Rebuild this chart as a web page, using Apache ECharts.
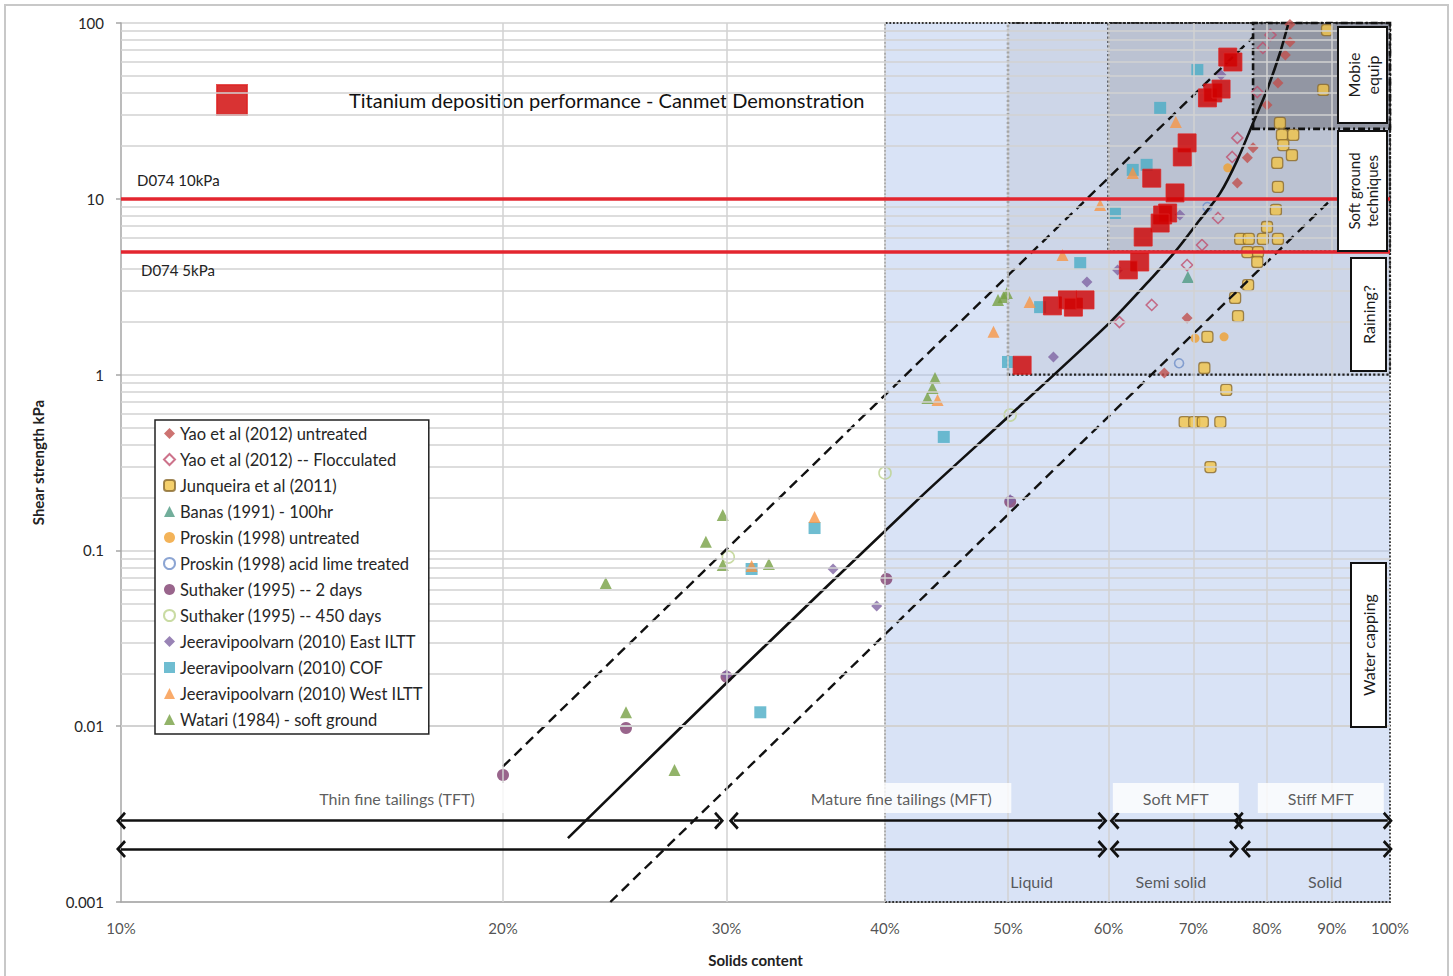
<!DOCTYPE html>
<html>
<head>
<meta charset="utf-8">
<title>Shear strength vs solids content</title>
<script src="https://cdn.jsdelivr.net/npm/echarts@6/dist/echarts.min.js"></script>
<style>
  html, body { margin: 0; padding: 0; background: #fff; }
  #chart { width: 1453px; height: 976px; }
</style>
</head>
<body>
<div id="chart"></div>
<script>
// [solids content (fraction), shear strength kPa]
const yaoUntreated = [[0.834, 98], [0.834, 77.9], [0.827, 65.8], [0.816, 45.6], [0.800, 34.2], [0.780, 19.5], [0.772, 17.1], [0.758, 12.3], [0.692, 2.10], [0.664, 1.02]]
const yaoFlocculated = [[0.805, 85.5], [0.794, 72.1], [0.786, 40.5], [0.758, 22.2], [0.751, 17.3], [0.732, 7.78], [0.711, 5.46], [0.692, 4.20], [0.649, 2.49], [0.612, 1.99]]
const junqueira = [[0.892, 91.2], [0.886, 41.6], [0.819, 27.0], [0.822, 23.1], [0.839, 23.1], [0.824, 20.2], [0.837, 17.7], [0.815, 16.0], [0.816, 11.7], [0.813, 8.64], [0.800, 6.91], [0.762, 5.91], [0.774, 5.91], [0.794, 5.91], [0.816, 5.91], [0.772, 4.98], [0.787, 4.98], [0.786, 4.37], [0.773, 3.23], [0.755, 2.73], [0.759, 2.15], [0.718, 1.64], [0.714, 1.09], [0.743, 0.818], [0.689, 0.537], [0.701, 0.537], [0.712, 0.537], [0.735, 0.537], [0.722, 0.298]]
const banas = [[0.693, 3.59]]
const proskinUntreated = [[0.702, 1.61], [0.740, 1.64], [0.745, 15.0]]
const proskinLime = [[0.718, 8.98], [0.682, 1.16]]
const suthaker2 = [[0.200, 0.00528], [0.250, 0.00977], [0.300, 0.0191], [0.401, 0.0688], [0.502, 0.189]]
const suthaker450 = [[0.301, 0.0917], [0.400, 0.276], [0.502, 0.589]]
const eastIltt = [[0.364, 0.0784], [0.394, 0.0483], [0.300, 0.0196], [0.543, 1.26], [0.577, 3.36], [0.610, 3.94], [0.683, 8.09], [0.502, 0.194], [0.736, 50.6]]
const cof = [[0.352, 0.134], [0.319, 0.0120], [0.445, 0.442], [0.500, 1.18], [0.530, 2.42], [0.570, 4.31], [0.607, 8.30], [0.627, 14.6], [0.643, 15.6], [0.659, 32.9], [0.705, 54.0], [0.314, 0.0784]]
const westIltt = [[0.352, 0.155], [0.487, 1.75], [0.440, 0.717], [0.520, 2.59], [0.552, 4.79], [0.591, 9.22], [0.678, 27.3], [0.627, 14.0], [0.314, 0.0815]]
const watari = [[0.298, 0.159], [0.289, 0.112], [0.298, 0.0826], [0.324, 0.0837], [0.241, 0.0653], [0.250, 0.0120], [0.273, 0.00563], [0.491, 2.66], [0.496, 2.76], [0.499, 2.91], [0.438, 0.957], [0.436, 0.839], [0.432, 0.736]]
const titanium = [[0.745, 64.0], [0.752, 60.0], [0.718, 37.5], [0.725, 40.0], [0.736, 42.1], [0.692, 20.8], [0.686, 17.3], [0.649, 13.1], [0.677, 10.8], [0.662, 8.09], [0.668, 8.30], [0.659, 7.28], [0.639, 6.06], [0.635, 4.37], [0.622, 3.94], [0.542, 2.46], [0.557, 2.66], [0.563, 2.42], [0.575, 2.66], [0.513, 1.13]]

// trend lines
const trendMid = [[0.225, 0.00231], [0.300, 0.0176], [0.426, 0.199], [0.502, 0.589], [0.602, 1.99], [0.650, 3.59], [0.679, 5.12], [0.708, 7.57], [0.735, 10.8], [0.758, 16.6], [0.780, 27.0], [0.800, 41.6], [0.819, 67.5], [0.831, 97.4]]
const trendUpper = [[0.2, 0.0059], [0.78, 83]]
const trendLower = [[0.243, 0.001], [0.9, 10]]

// limits and zones
const limitValues = [10, 5]
const limitNames = ['D074 10kPa', 'D074 5kPa']
const regionBounds = [[0.4, 1, 0.001, 100], [0.5, 1, 1, 100], [0.6, 1, 5, 100], [0.78, 1, 25, 100]]
const tailingBands = [[0.1, 0.296], [0.304, 0.5935], [0.6066, 0.76], [0.76, 0.996]]
const stateBands = [[0.1, 0.5935], [0.6066, 0.7535], [0.770, 0.996]]
const tailingRowY = 0.0029
const stateRowY = 0.002
const tailingNames = ['Thin fine tailings (TFT)', 'Mature fine tailings (MFT)', 'Soft MFT', 'Stiff MFT']
const tailingLabelAt = [[0.165, 0.0039], [0.412, 0.0039], [0.678, 0.0039], [0.882, 0.0039]]
const stateNames = ['Liquid', 'Semi solid', 'Solid']
const stateLabelAt = [[0.522, 0.0013], [0.672, 0.0013], [0.889, 0.0013]]

// axes
const xTickValues = [0.1, 0.2, 0.3, 0.4, 0.5, 0.6, 0.7, 0.8, 0.9, 1]
const xGridValues = [0.2, 0.3, 0.4, 0.5, 0.6, 0.7, 0.8, 0.9]
const yDecades = [0.001, 0.01, 0.1, 1, 10]
const yMinorSteps = [2, 3, 4, 5, 6, 7, 8, 9]

const font = 'Lato, "Open Sans", sans-serif'
const gridColor = '#d2d2d2'
const titaniumName = 'Titanium deposition performance - Canmet Demonstration'
const chevron = 'path://M10,0L20,10L17.6,12.4L10,4.8L2.4,12.4L0,10Z'

const chart = echarts.init(document.getElementById('chart'), null, { renderer: 'svg' })

function points(name, data, symbol, size, color, hollow, border) {
  let itemStyle = { color: color }
  if (hollow) {
    itemStyle = { color: 'rgba(0,0,0,0)', borderColor: color, borderWidth: 1.6 }
  } else if (border) {
    itemStyle = { color: color, borderColor: border, borderWidth: 1.3 }
  }
  return {
    name: name,
    type: 'scatter',
    data: data,
    symbol: symbol,
    symbolSize: size,
    itemStyle: itemStyle,
    z: 2,
    silent: true
  }
}

function textBox(text, x, y, w, h, size) {
  return {
    type: 'group',
    z: 100,
    silent: true,
    children: [
      {
        type: 'rect',
        z: 100,
        shape: { x: x, y: y, width: w, height: h },
        style: { fill: '#fff', stroke: '#111', lineWidth: 2 }
      },
      {
        type: 'text',
        z: 101,
        x: x + w / 2,
        y: y + h / 2,
        rotation: Math.PI / 2,
        style: {
          text: text,
          align: 'center',
          verticalAlign: 'middle',
          textAlign: 'center',
          textVerticalAlign: 'middle',
          fontFamily: font,
          fontSize: size,
          lineHeight: size + 3,
          fill: '#1a1a1a'
        }
      }
    ]
  }
}

let gridLines = []
yDecades.forEach(d => {
  yMinorSteps.forEach(s => {
    gridLines.push({ yAxis: +(d * s).toPrecision(3) })
  })
})
xGridValues.forEach(v => gridLines.push({ xAxis: v }))

const areaStyles = [
  { color: 'rgba(170,192,235,0.45)', borderColor: '#333', borderWidth: 1.8, borderType: 'dotted' },
  { color: 'rgba(140,140,152,0.15)', borderColor: '#222', borderWidth: 2.2, borderType: 'dotted' },
  { color: 'rgba(115,115,125,0.2)', borderColor: '#222', borderWidth: 2.2, borderType: 'dotted' },
  { color: 'rgba(80,80,86,0.38)', borderColor: '#111', borderWidth: 2.6, borderType: [7, 3, 2, 3] }
]
const regionData = regionBounds.map((b, i) => [
  { xAxis: b[0], yAxis: b[2], itemStyle: areaStyles[i] },
  { xAxis: b[1], yAxis: b[3] }
])

let arrowData = []
tailingBands.forEach(b => {
  arrowData.push([{ coord: [b[0], tailingRowY] }, { coord: [b[1], tailingRowY] }])
})
stateBands.forEach(b => {
  arrowData.push([{ coord: [b[0], stateRowY] }, { coord: [b[1], stateRowY] }])
})

const tailingBoxWidths = [214, 220, 126, 126]

const legendNames = [
  'Yao et al (2012) untreated',
  'Yao et al (2012) -- Flocculated',
  'Junqueira et al (2011)',
  'Banas (1991) - 100hr',
  'Proskin (1998) untreated',
  'Proskin (1998) acid lime treated',
  'Suthaker (1995) -- 2 days',
  'Suthaker (1995) -- 450 days',
  'Jeeravipoolvarn (2010) East ILTT',
  'Jeeravipoolvarn (2010) COF',
  'Jeeravipoolvarn (2010) West ILTT',
  'Watari (1984) - soft ground'
]

var option = {
  animation: false,
  textStyle: { fontFamily: font },
  grid: { left: 121, right: 63, top: 23, bottom: 74 },
  xAxis: {
    type: 'log',
    logBase: 10,
    min: 0.1,
    max: 1,
    axisLabel: { show: false },
    axisTick: { show: false },
    splitLine: { show: false },
    axisLine: { show: true, lineStyle: { color: '#a6a6a6', width: 1.5 } },
    name: 'Solids content',
    nameLocation: 'middle',
    nameGap: 50,
    nameTextStyle: { fontFamily: font, fontWeight: 'bold', fontSize: 15, color: '#222' }
  },
  yAxis: {
    type: 'log',
    logBase: 10,
    min: 0.001,
    max: 100,
    axisLine: { show: true, lineStyle: { color: '#a6a6a6', width: 1.5 } },
    axisTick: { show: true, length: 5, lineStyle: { color: '#a6a6a6', width: 1.5 } },
    axisLabel: {
      margin: 17,
      fontSize: 15,
      color: '#262626',
      fontFamily: font,
      formatter: v => String(+(+v).toPrecision(3))
    },
    splitLine: { show: true, lineStyle: { color: gridColor, width: 1.5 } },
    name: 'Shear strength kPa',
    nameLocation: 'middle',
    nameGap: 76,
    nameTextStyle: { fontFamily: font, fontWeight: 'bold', fontSize: 15, color: '#222' }
  },
  legend: [
    {
      data: legendNames,
      orient: 'vertical',
      left: 155,
      top: 420,
      padding: [5, 6, 6, 8],
      itemGap: 9,
      itemWidth: 11,
      itemHeight: 11,
      backgroundColor: '#fff',
      borderColor: '#222',
      borderWidth: 1.5,
      selectedMode: false,
      z: 20,
      textStyle: { fontFamily: font, fontSize: 16.5, color: '#262626' }
    },
    {
      data: [titaniumName],
      left: 216,
      top: 84,
      padding: 0,
      itemWidth: 30,
      itemHeight: 30,
      selectedMode: false,
      textStyle: { fontFamily: font, fontSize: 20, color: '#111', padding: [0, 0, 10, 97] }
    }
  ],
  graphic: [
    {
      type: 'rect',
      z: -10,
      silent: true,
      shape: { x: 5, y: 5, width: 1443, height: 985 },
      style: { fill: 'none', stroke: '#c8c8c8', lineWidth: 2 }
    },
    textBox('Mobie\nequip', 1338, 27, 49, 96, 16),
    textBox('Soft ground\ntechniques', 1338, 131, 49, 120, 15),
    textBox('Raining?', 1351, 258, 35, 113, 16),
    textBox('Water capping', 1351, 563, 35, 164, 16)
  ],
  series: [
    {
      name: 'grid',
      type: 'line',
      data: [],
      z: 1,
      silent: true,
      markLine: {
        silent: true,
        symbol: ['none', 'none'],
        label: { show: false },
        lineStyle: { color: gridColor, width: 1.5, type: 'solid' },
        emphasis: { disabled: true },
        data: gridLines
      }
    },
    points(legendNames[0], yaoUntreated, 'diamond', 11, '#c0504d'),
    points(legendNames[1], yaoFlocculated, 'diamond', 11, '#c0506e', true),
    points(legendNames[2], junqueira, 'roundRect', 11, '#f2c447', false, '#8a6a2e'),
    points(legendNames[3], banas, 'triangle', 12, '#4f9a82'),
    points(legendNames[4], proskinUntreated, 'circle', 9, '#f0a030'),
    points(legendNames[5], proskinLime, 'circle', 9, '#6f8fc8', true),
    points(legendNames[6], suthaker2, 'circle', 12, '#7f3f6f'),
    points(legendNames[7], suthaker450, 'circle', 12, '#bcd28c', true),
    points(legendNames[8], eastIltt, 'diamond', 11, '#8064a2'),
    points(legendNames[9], cof, 'rect', 12, '#4bacc6'),
    points(legendNames[10], westIltt, 'triangle', 12, '#f79646'),
    points(legendNames[11], watari, 'triangle', 12, '#77a044'),
    {
      name: 'regions',
      type: 'line',
      data: [],
      z: 3,
      silent: true,
      markArea: { silent: true, data: regionData }
    },
    {
      name: 'trend',
      type: 'line',
      data: trendMid,
      symbol: 'none',
      smooth: 0.25,
      z: 4,
      silent: true,
      lineStyle: { color: '#111', width: 2.6 }
    },
    {
      name: 'upper bound',
      type: 'line',
      data: trendUpper,
      symbol: 'none',
      z: 4,
      silent: true,
      lineStyle: { color: '#111', width: 2.4, type: [10, 6] }
    },
    {
      name: 'lower bound',
      type: 'line',
      data: trendLower,
      symbol: 'none',
      z: 4,
      silent: true,
      lineStyle: { color: '#111', width: 2.4, type: [10, 6] }
    },
    {
      name: 'limits',
      type: 'line',
      data: [],
      z: 4,
      silent: true,
      markLine: {
        silent: true,
        symbol: ['none', 'none'],
        lineStyle: { color: '#e3262f', width: 3.5, type: 'solid' },
        label: { show: true, formatter: '{b}', fontFamily: font, fontSize: 15, color: '#222' },
        data: [
          { yAxis: limitValues[0], name: limitNames[0], label: { position: 'insideStartTop', distance: [16, 11] } },
          { yAxis: limitValues[1], name: limitNames[1], label: { position: 'insideStartBottom', distance: [20, 11] } }
        ]
      }
    },
    {
      name: titaniumName,
      type: 'scatter',
      data: titanium,
      symbol: 'rect',
      symbolSize: 18,
      z: 5,
      silent: true,
      itemStyle: { color: '#d00000', borderColor: '#dd2424', borderWidth: 1 }
    },
    {
      name: 'zones',
      type: 'line',
      data: [],
      z: 6,
      silent: true,
      markLine: {
        silent: true,
        symbol: [chevron, chevron],
        symbolSize: [18, 10],
        label: { show: false },
        lineStyle: { color: '#111', width: 2.5, type: 'solid' },
        data: arrowData
      }
    },
    {
      name: 'zone labels',
      type: 'scatter',
      symbolSize: 0,
      z: 7,
      silent: true,
      clip: false,
      data: tailingNames.map((n, i) => ({
        name: n,
        value: tailingLabelAt[i],
        label: { width: tailingBoxWidths[i] }
      })),
      label: {
        show: true,
        position: 'inside',
        formatter: '{b}',
        backgroundColor: '#fff',
        height: 30,
        lineHeight: 30,
        align: 'center',
        verticalAlign: 'middle',
        fontFamily: font,
        fontSize: 16,
        color: '#333'
      }
    },
    {
      name: 'state labels',
      type: 'scatter',
      symbolSize: 0,
      z: 7,
      silent: true,
      clip: false,
      data: stateNames.map((n, i) => ({ name: n, value: stateLabelAt[i] })),
      label: {
        show: true,
        position: 'inside',
        formatter: '{b}',
        fontFamily: font,
        fontSize: 16,
        color: '#333'
      }
    },
    {
      name: 'x ticks',
      type: 'scatter',
      symbolSize: 0,
      z: 7,
      silent: true,
      clip: false,
      data: xTickValues.map(v => [v, 0.001]),
      label: {
        show: true,
        position: 'bottom',
        distance: 18,
        formatter: p => Math.round(p.value[0] * 100) + '%',
        fontFamily: font,
        fontSize: 15,
        color: '#262626'
      }
    }
  ]
}

chart.setOption(option, true)
window.addEventListener('resize', () => {
  chart.resize()
})
</script>
</body>
</html>
